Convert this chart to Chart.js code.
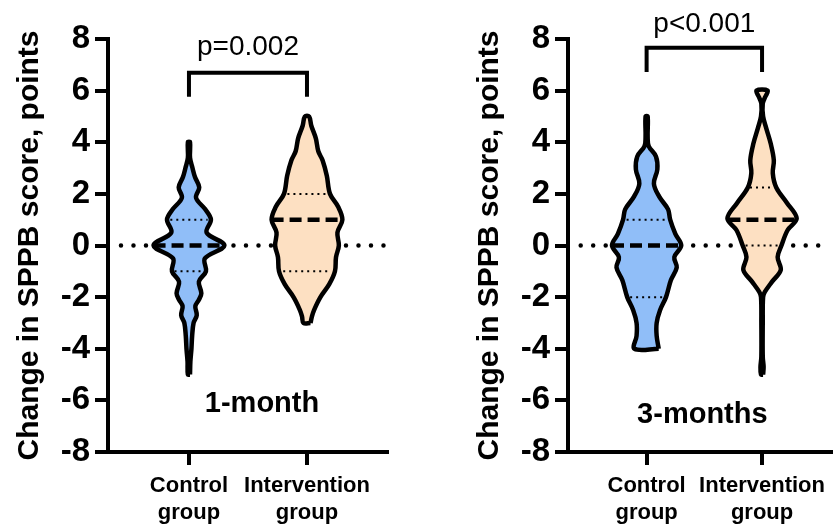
<!DOCTYPE html>
<html>
<head>
<meta charset="utf-8">
<script src="https://cdn.jsdelivr.net/npm/chart.js@4.4.0/dist/chart.umd.min.js"></script>
<style>
  html, body { margin: 0; padding: 0; background: #fff; }
  #wrap { position: relative; width: 833px; height: 527px; overflow: hidden; }
  .panel { position: absolute; top: 0; height: 527px; }
</style>
</head>
<body>
<div id="wrap">
  <div class="panel" style="left:0;width:400px"><canvas id="chart1"></canvas></div>
  <div class="panel" style="left:460px;width:373px"><canvas id="chart2"></canvas></div>
</div>
<script>
// categories / ticks
const groups = [["Control", "group"], ["Intervention", "group"]];
const yTicks = [-8, -6, -4, -2, 0, 2, 4, 6, 8];
const yTitle = "Change in SPPB score, points";
const periods = ["1-month", "3-months"];
const pValues = ["p=0.002", "p<0.001"];

// 1-month violins: score levels and relative density (1 = widest)
const ctrl1Y = [-5, -4.5, -4, -3.5, -3, -2.7, -2.35, -2.1, -1.85, -1.4, -1, -0.5, 0, 0.5, 1, 1.4, 1.85, 2.25, 2.65, 3, 3.4, 4];
const ctrl1D = [0.03, 0.04, 0.07, 0.09, 0.13, 0.22, 0.18, 0.28, 0.35, 0.28, 0.48, 0.45, 1.0, 0.5, 0.62, 0.46, 0.2, 0.29, 0.17, 0.1, 0.03, 0.03];
const int1Y = [-3, -2.75, -2.5, -2, -1.5, -1, -0.45, 0, 0.5, 1, 1.5, 2, 2.7, 3.3, 3.65, 4.15, 4.65, 5];
const int1D = [0.1, 0.14, 0.2, 0.38, 0.63, 0.79, 0.82, 0.9, 0.86, 1.0, 0.88, 0.65, 0.56, 0.44, 0.32, 0.25, 0.12, 0.06];
// quartiles: [Q1, median, Q3]
const ctrl1Q = [-1, 0, 1];
const int1Q = [-1, 1, 2];

// 3-months violins
const ctrl3Y = [-4, -3.5, -3, -2.5, -2, -1.35, -0.85, -0.45, 0, 0.45, 1, 1.4, 1.9, 2.4, 2.95, 3.45, 3.85, 4.2, 5];
const ctrl3D = [0.35, 0.29, 0.29, 0.39, 0.56, 0.7, 0.87, 0.8, 1.0, 0.83, 0.68, 0.62, 0.36, 0.21, 0.31, 0.27, 0.06, 0.03, 0.03];
const int3Y = [-5, -4.7, -4.3, -3, -2, -1.8, -1.4, -0.95, -0.45, 0, 0.6, 1.05, 1.65, 2.25, 2.8, 3.3, 3.95, 4.55, 5, 5.5, 5.75, 6];
const int3D = [0.03, 0.045, 0.02, 0.02, 0.03, 0.08, 0.29, 0.54, 0.45, 0.56, 0.74, 1.0, 0.72, 0.41, 0.31, 0.34, 0.25, 0.12, 0.03, 0.02, 0.09, 0.16];
const ctrl3Q = [-2, 0, 1];
const int3Q = [0, 1, 2.25];

Chart.defaults.font.family = '"Liberation Sans", Arial, sans-serif';
Chart.defaults.color = "#000";

const blue = "#90bef8";
const peach = "#fde0c2";

function violinPoints(ys, ds, c, half) {
  const pts = [];
  for (let i = 0; i < ys.length; i++) pts.push({ x: c + ds[i] * half, y: ys[i] });
  for (let i = ys.length - 1; i >= 0; i--) pts.push({ x: c - ds[i] * half, y: ys[i] });
  pts.push({ x: c + ds[0] * half, y: ys[0] });
  return pts;
}

function widthAt(ys, ds, v) {
  for (let i = 0; i < ys.length - 1; i++) {
    if (v >= ys[i] && v <= ys[i + 1]) {
      const t = (v - ys[i]) / (ys[i + 1] - ys[i]);
      return ds[i] + t * (ds[i + 1] - ds[i]);
    }
  }
  return 0;
}

function quartileSets(ys, ds, q, c, half) {
  return q.map((v, i) => {
    const w = widthAt(ys, ds, v) * half * (i === 1 ? 1.0 : 0.85);
    return {
      type: "line",
      data: [{ x: c - w, y: v }, { x: c + w, y: v }],
      borderColor: "#000",
      borderWidth: i === 1 ? 4.5 : 2,
      borderDash: i === 1 ? [12, 6] : [2, 4],
      pointRadius: 0,
      fill: false,
      order: 1,
    };
  });
}

const notesPlugin = {
  id: "notes",
  afterDraw(chart, args, opts) {
    const { ctx } = chart;
    const x = chart.scales.x, y = chart.scales.y;
    ctx.save();
    ctx.fillStyle = "#000";
    ctx.textAlign = "center";
    ctx.textBaseline = "alphabetic";
    ctx.font = '28px "Liberation Sans", Arial, sans-serif';
    ctx.fillText(opts.p, x.getPixelForValue(1.5), y.getPixelForValue(opts.pY));
    ctx.font = 'bold 29px "Liberation Sans", Arial, sans-serif';
    ctx.fillText(opts.period, x.getPixelForValue(opts.periodX), y.getPixelForValue(opts.periodY));
    ctx.restore();
  },
};

function makeChart(id, s) {
  const half = 0.3;
  const datasets = [];
  datasets.push(...quartileSets(s.cY, s.cD, s.cQ, 1, half));
  datasets.push(...quartileSets(s.iY, s.iD, s.iQ, 2, half));
  datasets.push({
    type: "line",
    data: [{ x: 1, y: s.bLow }, { x: 1, y: s.bTop }, { x: 2, y: s.bTop }, { x: 2, y: s.bLow }],
    borderColor: "#000", borderWidth: 4, pointRadius: 0, fill: false, tension: 0, order: 1,
  });
  datasets.push({
    type: "line",
    data: violinPoints(s.cY, s.cD, 1, half),
    borderColor: "#000", backgroundColor: blue, borderWidth: 4.5,
    pointRadius: 0, fill: "shape", tension: 0.35, order: 2,
  });
  datasets.push({
    type: "line",
    data: violinPoints(s.iY, s.iD, 2, half),
    borderColor: "#000", backgroundColor: peach, borderWidth: 4.5,
    pointRadius: 0, fill: "shape", tension: 0.35, order: 2,
  });
  datasets.push({
    type: "line",
    data: [{ x: s.xMin + 0.11, y: 0 }, { x: s.xMax - 0.02, y: 0 }],
    borderColor: "#000", borderWidth: 4.5, borderDash: [0, 12.5], borderCapStyle: "round",
    pointRadius: 0, fill: false, order: 3,
  });

  new Chart(document.getElementById(id), {
    type: "line",
    data: { datasets },
    plugins: [notesPlugin],
    options: {
      responsive: true,
      maintainAspectRatio: false,
      animation: false,
      layout: { padding: { top: 39, right: s.padRight, bottom: 0, left: 0 } },
      plugins: {
        legend: { display: false },
        tooltip: { enabled: false },
        notes: { p: s.p, pY: s.pY, period: s.period, periodX: s.periodX, periodY: s.periodY },
      },
      scales: {
        x: {
          type: "linear",
          min: s.xMin,
          max: s.xMax,
          afterBuildTicks: (axis) => { axis.ticks = [{ value: 1 }, { value: 2 }]; },
          afterFit: (scale) => { scale.height = 75; },
          border: { display: true, color: "#000", width: 4 },
          grid: { display: true, drawOnChartArea: false, drawTicks: true, tickLength: 13, lineWidth: 4, color: "#000" },
          ticks: {
            autoSkip: false, maxRotation: 0, padding: 8,
            font: { size: 22, weight: "bold", lineHeight: 1.2 }, color: "#000",
            callback: (v) => groups[v - 1],
          },
        },
        y: {
          min: -8,
          max: 8,
          afterBuildTicks: (axis) => { axis.ticks = yTicks.map((v) => ({ value: v })); },
          afterFit: (scale) => { scale.width = 108; },
          border: { display: true, color: "#000", width: 4 },
          grid: { display: true, drawOnChartArea: false, drawTicks: true, tickLength: 13, lineWidth: 4, color: "#000" },
          ticks: { padding: 5, font: { size: 33, weight: "bold" }, color: "#000" },
          title: {
            display: true, text: yTitle, color: "#000",
            font: { size: 30, weight: "bold" }, padding: { top: 12, bottom: 0 },
          },
        },
      },
    },
  });
}

makeChart("chart1", {
  cY: ctrl1Y, cD: ctrl1D, cQ: ctrl1Q,
  iY: int1Y, iD: int1D, iQ: int1Q,
  xMin: 0.314, xMax: 2.678, padRight: 13,
  bLow: 5.76, bTop: 6.69,
  p: pValues[0], pY: 7.38,
  period: periods[0], periodX: 1.619, periodY: -6.44,
});

makeChart("chart2", {
  cY: ctrl3Y, cD: ctrl3D, cQ: ctrl3Q,
  iY: int3Y, iD: int3D, iQ: int3Q,
  xMin: 0.319, xMax: 2.603, padRight: 0,
  bLow: 6.72, bTop: 7.66,
  p: pValues[1], pY: 8.27,
  period: periods[1], periodX: 1.483, periodY: -6.88,
});
</script>
</body>
</html>
